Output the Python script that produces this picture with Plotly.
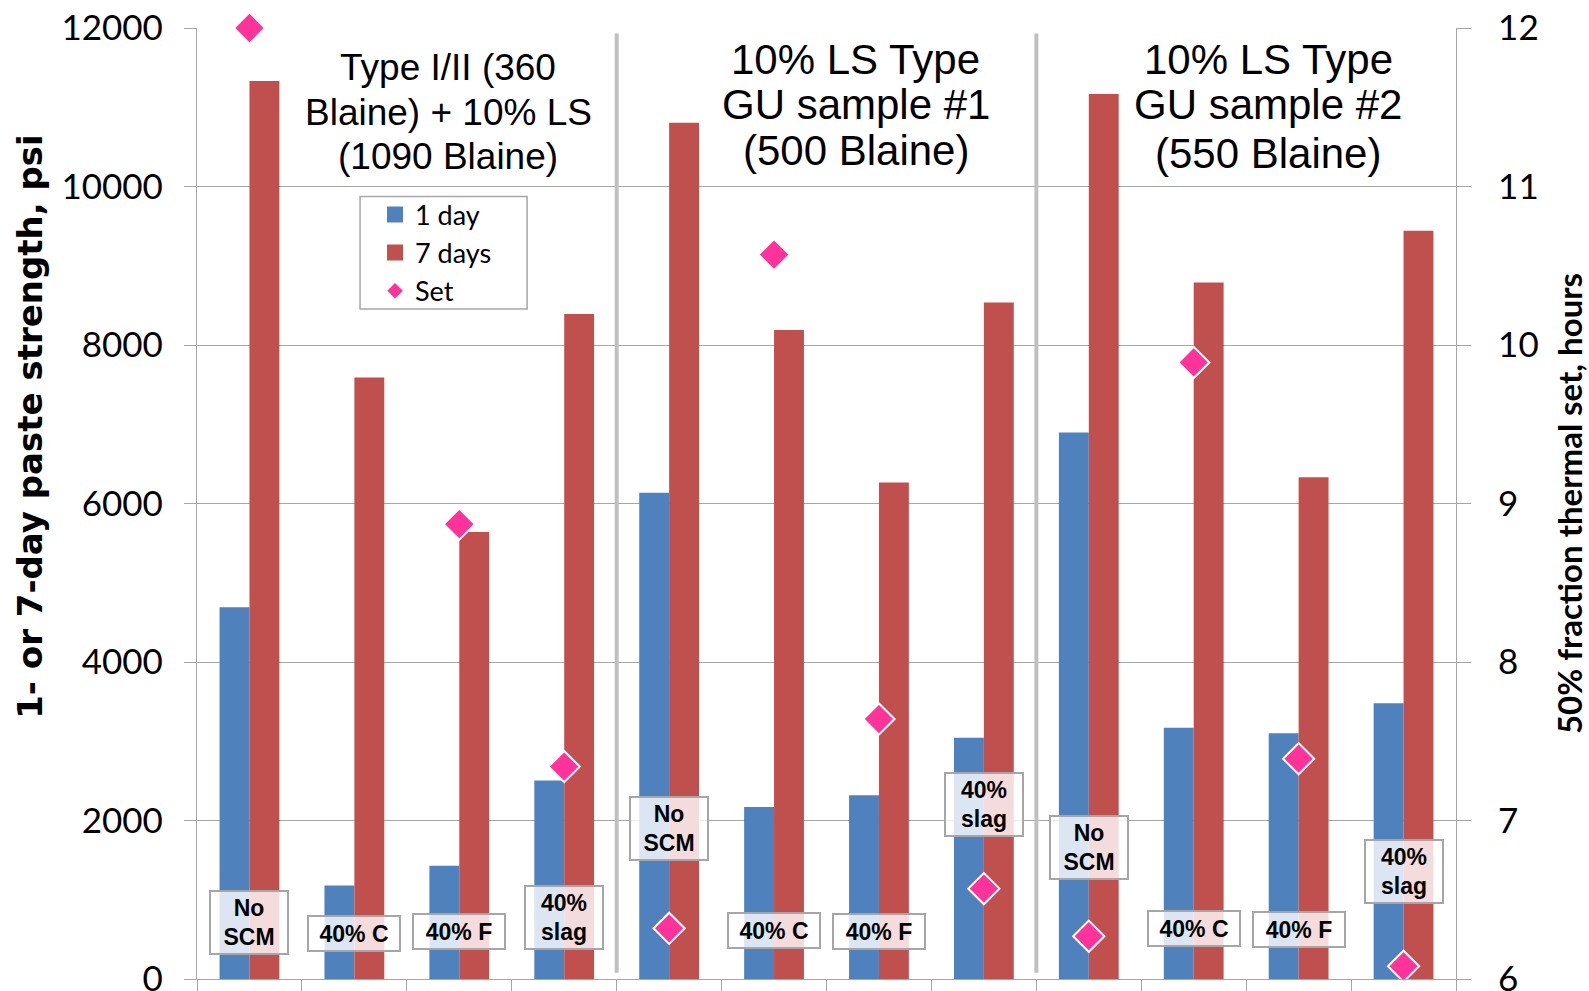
import plotly.graph_objects as go

# Mix designs: three cement groups, four SCM variants each
groups = [
    ["Type I/II (360", "Blaine) + 10% LS", "(1090 Blaine)"],
    ["10% LS Type", "GU sample #1", "(500 Blaine)"],
    ["10% LS Type", "GU sample #2", "(550 Blaine)"],
]
scm_labels = ["No<br>SCM", "40% C", "40% F", "40%<br>slag"] * 3

# Paste strength, psi
strength_1day = [4690, 1180, 1430, 2505, 6135, 2170, 2318, 3045, 6895, 3170, 3100, 3478]
strength_7day = [11330, 7590, 5640, 8392, 10805, 8189, 6266, 8537, 11166, 8790, 6330, 9442]
# 50% fraction thermal set, hours
set_hours = [12.0, None, 8.87, 7.34, 6.32, 10.57, 7.64, 6.57, 6.27, 9.89, 7.39, 6.08]

x_idx = list(range(len(scm_labels)))

BLUE = "#4F81BD"
RED = "#C0504D"
PINK = "#FF3399"
GRID = "#A6A6A6"
TICK_FONT = dict(family="Lato", size=35, color="#000000")

fig = go.Figure()
fig.add_trace(go.Bar(x=x_idx, y=strength_1day, name="1 day", legendgroup="d1",
                     showlegend=False, marker=dict(color=BLUE, line=dict(width=0))))
fig.add_trace(go.Bar(x=x_idx, y=strength_7day, name="7 days", legendgroup="d7",
                     showlegend=False, marker=dict(color=RED, line=dict(width=0))))
fig.add_trace(go.Scatter(x=x_idx, y=set_hours, name="Set", yaxis="y2", legendgroup="set",
                         showlegend=False, mode="markers", cliponaxis=False,
                         marker=dict(symbol="diamond", size=24, color=PINK,
                                     line=dict(color="white", width=2))))

# Legend keys (larger swatches than the default bar key)
for name, grp, sym, col, sz in [("1 day", "d1", "square", BLUE, 16),
                                ("7 days", "d7", "square", RED, 16),
                                ("Set", "set", "diamond", PINK, 12)]:
    fig.add_trace(go.Scatter(x=[None], y=[None], name=name, legendgroup=grp,
                             mode="markers", showlegend=True,
                             marker=dict(symbol=sym, size=sz, color=col,
                                         line=dict(width=0))))

# Grey dividers between the cement groups
for xb in (3.5, 7.5):
    fig.add_shape(type="line", xref="x", yref="y", x0=xb, x1=xb, y0=80, y1=11930,
                  line=dict(color="#C0C0C0", width=4), layer="above")

# Frame behind the legend entries
fig.add_shape(type="rect", xref="paper", yref="paper",
              x0=0.1295, x1=0.2622, y0=0.7044, y1=0.8227,
              fillcolor="white", line=dict(color="#A6A6A6", width=1.5), layer="above")

# Group headings, one annotation per line
heading_x = [1.896, 5.78, 9.71]
heading_y = [[11501, 10938, 10375], [11603, 11041, 10452], [11603, 11041, 10414]]
heading_size = [37, 42, 42]
for g, lines in enumerate(groups):
    for li, txt in enumerate(lines):
        fig.add_annotation(x=heading_x[g], y=heading_y[g][li], xref="x", yref="y",
                           text=txt, showarrow=False, xanchor="center", yanchor="middle",
                           font=dict(family="Liberation Sans", size=heading_size[g],
                                     color="#000000"))

# SCM labels in translucent boxes
label_anchor_psi = [716, 576, 601, 780, 1893, 614, 601, 2200, 1663, 640, 627, 1356]
for i, txt in enumerate(scm_labels):
    two_line = "<br>" in txt
    fig.add_annotation(x=i, y=label_anchor_psi[i], xref="x", yref="y",
                       text="<b>" + txt + "</b>", showarrow=False,
                       xanchor="center", yanchor="middle",
                       width=74 if two_line else 88, height=59 if two_line else 31,
                       align="center", valign="middle",
                       bgcolor="rgba(255,255,255,0.8)", bordercolor="#A6A6A6",
                       borderwidth=2, borderpad=1,
                       font=dict(family="Liberation Sans", size=23, color="#000000"))

# Left axis title
fig.add_annotation(x=-0.1326, y=0.5807, xref="paper", yref="paper",
                   text="<b>1- or 7-day paste strength, psi</b>", textangle=-90,
                   showarrow=False, xanchor="center", yanchor="middle",
                   font=dict(family="DejaVu Sans", size=34, color="#000000"))

fig.update_layout(
    width=1589, height=991,
    margin=dict(l=197, r=133, t=28, b=12),
    paper_bgcolor="white", plot_bgcolor="white",
    barmode="group", bargap=0.43, bargroupgap=0,
    showlegend=True,
    legend=dict(x=0.1414, y=0.8292, xanchor="left", yanchor="top",
                bgcolor="rgba(0,0,0,0)", borderwidth=0,
                font=dict(family="Lato", size=27, color="#000000"),
                tracegroupgap=0, itemsizing="trace"),
    xaxis=dict(range=[-0.5, 11.5], tickmode="array", automargin=False,
               tickvals=[i - 0.5 for i in range(13)], showticklabels=False,
               ticks="outside", ticklen=12, tickcolor=GRID, tickwidth=1.2,
               showgrid=False, zeroline=False,
               showline=True, linecolor=GRID, linewidth=1.2),
    yaxis=dict(range=[0, 12000], dtick=2000, tickformat="d", automargin=False,
               ticks="outside", ticklen=12, tickcolor=GRID, tickwidth=1.2,
               ticklabelstandoff=14, ticklabeloverflow="allow",
               showgrid=True, gridcolor=GRID, gridwidth=1.2, zeroline=False,
               showline=True, linecolor=GRID, linewidth=1.2,
               tickfont=TICK_FONT),
    yaxis2=dict(range=[6, 12], dtick=1, overlaying="y", side="right", automargin=False,
                ticks="outside", ticklen=14, tickcolor=GRID, tickwidth=1.2,
                ticklabelstandoff=20, ticklabeloverflow="allow",
                showgrid=False, zeroline=False,
                showline=True, linecolor=GRID, linewidth=1.2,
                tickfont=TICK_FONT,
                title=dict(text="<b>50% fraction thermal set, hours</b>", standoff=22,
                           font=dict(family="Lato", size=33, color="#000000"))),
)

fig.write_html("out.html")
